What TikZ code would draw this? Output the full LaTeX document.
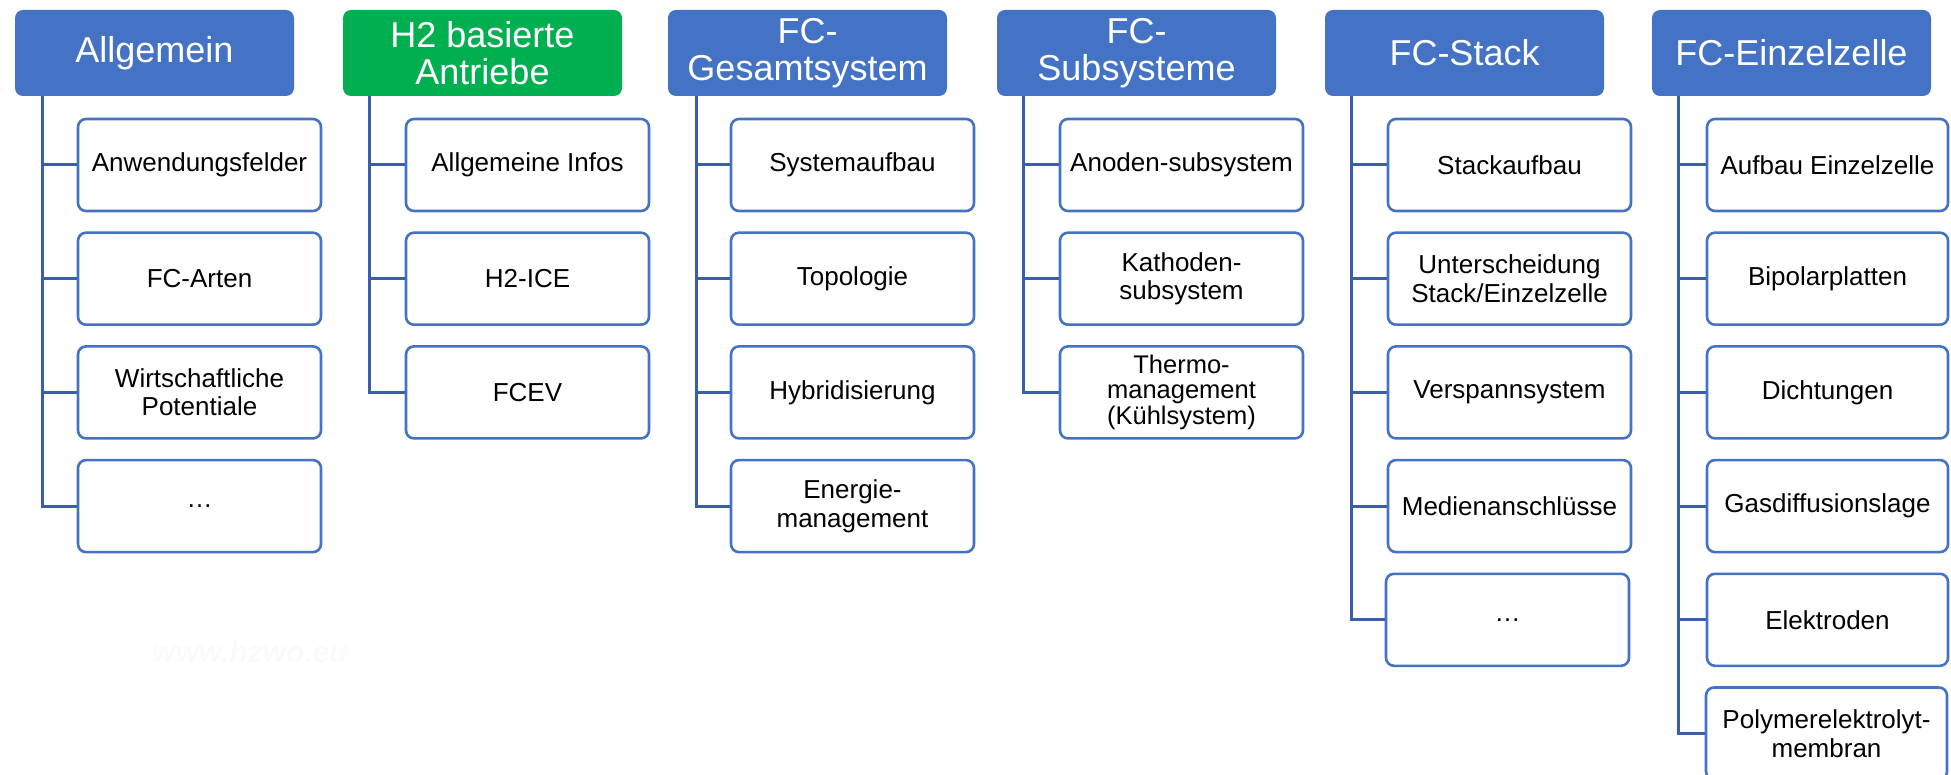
\documentclass[tikz,border=0pt]{standalone}
\usepackage{fontspec}
\setmainfont{Liberation Sans}
\definecolor{hdrblue}{HTML}{4472C4}
\definecolor{hdrgreen}{HTML}{00B050}
\definecolor{boxblue}{HTML}{4472C4}
\definecolor{linkblue}{HTML}{3A5FAA}
\tikzset{
  hdr/.style={rectangle, rounded corners=8pt, fill=hdrblue, text=white,
    minimum width=279pt, minimum height=86pt, inner sep=0pt, align=center,
    font=\fontsize{36}{37}\selectfont},
  item/.style={rectangle, rounded corners=8pt, draw=boxblue, line width=2.6pt,
    fill=white, text=black, minimum width=243pt, minimum height=92pt,
    inner sep=0pt, align=center, font=\fontsize{26}{28.5}\selectfont},
  conn/.style={draw=linkblue, line width=3pt},
}
\begin{document}
\begin{tikzpicture}[x=1pt,y=-1pt]
\useasboundingbox (0,0) rectangle (1951,775);
\clip (0,0) rectangle (1951,775);

% faint watermark
\node[text=black!2, font=\fontsize{30}{30}\bfseries\itshape] (wm) at (250,652) {www.hzwo.eu};

% column headers
\node[hdr] (h1) at (154.5,53) {Allgemein};
\node[hdr, fill=hdrgreen] (h2) at (482.5,53) {H2 basierte\\Antriebe};
\node[hdr] (h3) at (807.5,53) {FC-\\Gesamtsystem};
\node[hdr] (h4) at (1136.5,53) {FC-\\Subsysteme};
\node[hdr] (h5) at (1464.5,53) {FC-Stack};
\node[hdr] (h6) at (1791.5,53) {FC-Einzelzelle};

% trunk start points below each header
\coordinate (t1) at (42,96);
\coordinate (t2) at (369,96);
\coordinate (t3) at (696,96);
\coordinate (t4) at (1023,96);
\coordinate (t5) at (1351,96);
\coordinate (t6) at (1678,96);

% Allgemein
\node[item] (a1) at (199.5,165)   {Anwendungsfelder};
\node[item] (a2) at (199.5,278.7) {FC-Arten};
\node[item] (a3) at (199.5,392.4) {Wirtschaftliche\\Potentiale};
\node[item] (a4) at (199.5,506.1) {…};

% H2 basierte Antriebe
\node[item] (b1) at (527.5,165)   {Allgemeine Infos};
\node[item] (b2) at (527.5,278.7) {H2-ICE};
\node[item] (b3) at (527.5,392.4) {FCEV};

% FC-Gesamtsystem
\node[item] (c1) at (852.5,165)   {Systemaufbau};
\node[item] (c2) at (852.5,278.7) {Topologie};
\node[item] (c3) at (852.5,392.4) {Hybridisierung};
\node[item] (c4) at (852.5,506.1) {Energie-\\management};

% FC-Subsysteme
\node[item] (d1) at (1181.5,165)   {Anoden-subsystem};
\node[item] (d2) at (1181.5,278.7) {Kathoden-\\subsystem};
\node[item, font=\fontsize{25.5}{25.5}\selectfont] (d3) at (1181.5,392.4) {Thermo-\\management\\(Kühlsystem)};

% FC-Stack
\node[item] (e1) at (1509.5,165)   {Stackaufbau};
\node[item] (e2) at (1509.5,278.7) {Unterscheidung\\Stack/Einzelzelle};
\node[item] (e3) at (1509.5,392.4) {Verspannsystem};
\node[item] (e4) at (1509.5,506.1) {Medienanschlüsse};
\node[item] (e5) at (1507.5,619.8) {…};

% FC-Einzelzelle
\node[item, minimum width=241pt] (f1) at (1827.5,165)   {Aufbau Einzelzelle};
\node[item, minimum width=241pt] (f2) at (1827.5,278.7) {Bipolarplatten};
\node[item, minimum width=241pt] (f3) at (1827.5,392.4) {Dichtungen};
\node[item, minimum width=241pt] (f4) at (1827.5,506.1) {Gasdiffusionslage};
\node[item, minimum width=241pt] (f5) at (1827.5,619.8) {Elektroden};
\node[item, minimum width=241pt] (f6) at (1826.5,733.5) {Polymerelektrolyt-\\membran};

% connectors: trunk down to the last item, branches to the others
\draw[conn] (t1) |- (a4.west);
\foreach \n in {a1,a2,a3} \draw[conn] (t1 |- \n.west) -- (\n.west);
\draw[conn] (t2) |- (b3.west);
\foreach \n in {b1,b2} \draw[conn] (t2 |- \n.west) -- (\n.west);
\draw[conn] (t3) |- (c4.west);
\foreach \n in {c1,c2,c3} \draw[conn] (t3 |- \n.west) -- (\n.west);
\draw[conn] (t4) |- (d3.west);
\foreach \n in {d1,d2} \draw[conn] (t4 |- \n.west) -- (\n.west);
\draw[conn] (t5) |- (e5.west);
\foreach \n in {e1,e2,e3,e4} \draw[conn] (t5 |- \n.west) -- (\n.west);
\draw[conn] (t6) |- (f6.west);
\foreach \n in {f1,f2,f3,f4,f5} \draw[conn] (t6 |- \n.west) -- (\n.west);
\end{tikzpicture}
\end{document}
